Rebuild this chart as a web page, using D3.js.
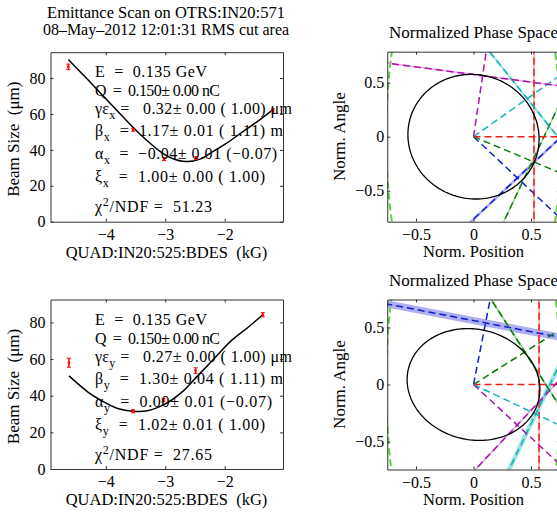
<!DOCTYPE html>
<html>
<head>
<meta charset="utf-8">
<script src="https://cdn.jsdelivr.net/npm/d3@7"></script>
<style>
  body { margin: 0; background: #fff; }
  svg text { font-family: "Liberation Serif", "Times New Roman", serif !important; white-space: pre; }
</style>
</head>
<body>
<svg id="canvas"></svg>
<script>
// ---- scan data (x plane, top) ----
const quadX = [-4.63, -3.54, -3.02, -2.48, -1.19];
const sizeX = [86.2, 51.2, 34.9, 35.4, 62.0];
const errX = [1.0, 0.3, 0.3, 0.3, 0.3];
const fitQuadX = [-4.63, -4.3, -4.0, -3.7, -3.4, -3.1, -2.9, -2.65, -2.4, -2.2, -2.0, -1.7, -1.4, -1.19];
const fitSizeX = [90.3, 79, 68.5, 58, 48, 39.5, 35.5, 33.5, 35, 39, 43, 50, 57, 62.4];

// ---- scan data (y plane, bottom) ----
const quadY = [-4.62, -3.54, -3.03, -2.49, -1.36];
const sizeY = [58.0, 31.5, 37.6, 53.7, 84.2];
const errY = [1.9, 0.3, 0.3, 1.0, 0.6];
const fitQuadY = [-4.62, -4.3, -4.1, -3.8, -3.54, -3.3, -3.0, -2.7, -2.48, -2.2, -1.88, -1.6, -1.36];
const fitSizeY = [50.8, 42, 37.8, 33, 31.5, 31.8, 35.5, 42.5, 50, 59.5, 70.3, 77.5, 84.2];

const quadTicks = [-4, -3, -2];
const sizeTicks = [0, 20, 40, 60, 80];
const normTicks = [-0.5, 0, 0.5];

// fit results text, [symbol, subscript, superscript, rest]
const statsX = [
  ["E", "", "", "  =  0.135 GeV"],
  ["Q", "", "", "  =  0.150\u00b1 0.00 nC"],
  ["\u03b3\u03b5", "x", "", " =   0.32\u00b1 0.00 ( 1.00) \u03bcm"],
  ["\u03b2", "x", "", "  =  1.17\u00b1 0.01 ( 1.11) m"],
  ["\u03b1", "x", "", "  =  \u22120.04\u00b1 0.01 (\u22120.07)"],
  ["\u03be", "x", "", "  =  1.00\u00b1 0.00 ( 1.00)"],
  ["\u03c7", "", "2", "/NDF =  51.23"]
];
const statsY = [
  ["E", "", "", "  =  0.135 GeV"],
  ["Q", "", "", "  =  0.150\u00b1 0.00 nC"],
  ["\u03b3\u03b5", "y", "", " =   0.27\u00b1 0.00 ( 1.00) \u03bcm"],
  ["\u03b2", "y", "", "  =  1.30\u00b1 0.04 ( 1.11) m"],
  ["\u03b1", "y", "", "  =  0.00\u00b1 0.01 (\u22120.07)"],
  ["\u03be", "y", "", "  =  1.02\u00b1 0.01 ( 1.00)"],
  ["\u03c7", "", "2", "/NDF =  27.65"]
];

// phase space: normal angle (deg) and distance of each measurement line
const phaseColors = ["#1020d0", "#0a7d0a", "#ee1c1c", "#10b4b4", "#b010b0"];
const bandColors = ["#a8a8f0", "#9ed49e", "#f4a8a8", "#98e2e2", "#e0a0e0"];
const angleX = [-45, -24, 0, 37, 82];
const distX = [0.54, 0.56, 0.526, 0.585, 0.57];
const angleY = [79, 32.5, 0, -25.5, -43];
const distY = [0.55, 0.53, 0.57, 0.6, 0.52];
// fitted ellipse [a, b, shear] and outer light green ellipse [a, b]
const ellX = [0.57, 0.577, -0.02];
const ellY = [0.575, 0.49, -0.05];
const outerEll = [0.76, 2.2];

const W = 557, H = 513;
const svg = d3.select("#canvas").attr("width", W).attr("height", H);
svg.append("rect").attr("width", W).attr("height", H).attr("fill", "#fff");

const axisColor = "#333";

function styleAxis(sel) {
  sel.selectAll("path.domain").attr("stroke", axisColor);
  sel.selectAll(".tick line").attr("stroke", axisColor);
  sel.selectAll(".tick text").attr("fill", "#000").style("font-size", "16px");
}

function boxAxes(g, x, y, xt, yt, fmt, pad) {
  const [x0, x1] = x.range();
  const [y0, y1] = y.range(); // y0 bottom
  g.append("g").attr("transform", `translate(0,${y0})`)
    .call(d3.axisBottom(x).tickValues(xt).tickSizeInner(-3).tickSizeOuter(0).tickPadding(7).tickFormat(fmt))
    .call(styleAxis);
  g.append("g").attr("transform", `translate(0,${y1})`)
    .call(d3.axisTop(x).tickValues(xt).tickSizeInner(-3).tickSizeOuter(0).tickFormat(""))
    .call(styleAxis);
  g.append("g").attr("transform", `translate(${x0},0)`)
    .call(d3.axisLeft(y).tickValues(yt).tickSizeInner(-3).tickSizeOuter(0).tickPadding(pad).tickFormat(fmt))
    .call(styleAxis);
  g.append("g").attr("transform", `translate(${x1},0)`)
    .call(d3.axisRight(y).tickValues(yt).tickSizeInner(-3).tickSizeOuter(0).tickFormat(""))
    .call(styleAxis);
}

// line widths of the stats block as drawn in the original (px)
const statBase = [25, 44, 62, 84, 107, 130, 160];

function statLine(t, s, yPos, xPos, len) {
  const txt = t.append("text").attr("x", xPos).attr("y", yPos).style("font-size", "16px")
    .attr("textLength", len).attr("lengthAdjust", "spacing");
  txt.append("tspan").text(s[0]);
  if (s[1]) txt.append("tspan").attr("dy", 5).style("font-size", "12px").text(s[1]);
  if (s[2]) txt.append("tspan").attr("dy", -6).style("font-size", "12px").text(s[2]);
  const back = s[1] ? -5 : (s[2] ? 6 : 0);
  txt.append("tspan").attr("dy", back).text(s[3]);
}

function scanPanel(top, yMax, quads, sizes, errs, fitQ, fitS, stats, lens) {
  const g = svg.append("g");
  const x = d3.scaleLinear().domain([-4.93, -1.02]).range([50.5, 283]);
  const y = d3.scaleLinear().domain([0, yMax]).range([top + 169.5, top]);

  const line = d3.line().x((d, i) => x(fitQ[i])).y(d => y(d)).curve(d3.curveCatmullRom);
  g.append("path").attr("d", line(fitS)).attr("fill", "none")
    .attr("stroke", "#000").attr("stroke-width", 1.5);

  const pts = g.selectAll(".pt").data(sizes).enter().append("g");
  pts.append("line")
    .attr("x1", (d, i) => x(quads[i])).attr("x2", (d, i) => x(quads[i]))
    .attr("y1", (d, i) => y(d - errs[i]) + 1).attr("y2", (d, i) => y(d + errs[i]) - 1)
    .attr("stroke", "red").attr("stroke-width", 1.5);
  [-1, 1].forEach(s => {
    pts.append("line")
      .attr("x1", (d, i) => x(quads[i]) - 2).attr("x2", (d, i) => x(quads[i]) + 2)
      .attr("y1", (d, i) => y(d + s * errs[i]) - s).attr("y2", (d, i) => y(d + s * errs[i]) - s)
      .attr("stroke", "red").attr("stroke-width", 1);
  });
  pts.append("circle").attr("cx", (d, i) => x(quads[i])).attr("cy", d => y(d))
    .attr("r", 1.3).attr("fill", "red");

  const t = g.append("g");
  stats.forEach((s, i) => statLine(t, s, top + statBase[i], 95, lens[i]));

  boxAxes(g, x, y, quadTicks, sizeTicks, d => d3.format("d")(d), 5);

  g.append("text").attr("x", 166.5).attr("y", top + 205.5)
    .attr("text-anchor", "middle").style("font-size", "16.5px").text("QUAD:IN20:525:BDES  (kG)");
  g.append("text").attr("transform", `translate(19,${top + 87}) rotate(-90)`)
    .attr("text-anchor", "middle").style("font-size", "17px").text("Beam Size  (\u03bcm)");
}

function phasePanel(top, yLim, angles, dists, errs, sizes, ell, id) {
  const g = svg.append("g");
  const x = d3.scaleLinear().domain([-0.75, 0.75]).range([387.25, 559.75]);
  const y = d3.scaleLinear().domain([-yLim, yLim]).range([top + 170, top]);

  g.append("clipPath").attr("id", id).append("rect")
    .attr("x", 387.25).attr("y", top).attr("width", 172.5).attr("height", 170);
  const pg = g.append("g").attr("clip-path", `url(#${id})`);
  const seg = (a, b) => `M${x(a[0])},${y(a[1])}L${x(b[0])},${y(b[1])}`;
  const L = 3;

  // outer light green ellipse
  const ts = d3.range(0, 361, 2).map(v => v * Math.PI / 180);
  const outer = d3.line().x(t => x(outerEll[0] * Math.cos(t))).y(t => y(outerEll[1] * Math.sin(t)));
  pg.append("path").attr("d", outer(ts)).attr("fill", "none")
    .attr("stroke", "#5fd040").attr("stroke-width", 2).attr("stroke-dasharray", "7,4");

  angles.forEach((a, i) => {
    const th = a * Math.PI / 180, r = dists[i];
    const c = Math.cos(th), s = Math.sin(th);
    const P = [r * c, r * s];
    const p1 = [P[0] + L * s, P[1] - L * c], p2 = [P[0] - L * s, P[1] + L * c];
    const band = Math.max(1.5, r * errs[i] / sizes[i] * 115 * 3.5);
    pg.append("path").attr("d", seg(p1, p2)).attr("stroke", bandColors[i])
      .attr("stroke-width", band).attr("opacity", 0.9);
  });
  angles.forEach((a, i) => {
    const th = a * Math.PI / 180, r = dists[i];
    const c = Math.cos(th), s = Math.sin(th);
    const P = [r * c, r * s];
    const p1 = [P[0] + L * s, P[1] - L * c], p2 = [P[0] - L * s, P[1] + L * c];
    pg.append("path").attr("d", seg([0, 0], [L * c, L * s])).attr("stroke", phaseColors[i])
      .attr("stroke-width", 1.5).attr("stroke-dasharray", "7,4");
    pg.append("path").attr("d", seg(p1, p2)).attr("stroke", phaseColors[i])
      .attr("stroke-width", 1.5).attr("stroke-dasharray", "7,4");
  });

  const el = d3.line()
    .x(t => x(ell[0] * Math.cos(t) + ell[2] * Math.sin(t)))
    .y(t => y(ell[1] * Math.sin(t)));
  pg.append("path").attr("d", el(ts)).attr("fill", "none")
    .attr("stroke", "#000").attr("stroke-width", 1.3);

  const fmt = d => d === 0 ? "0" : d3.format(".1f")(d);
  boxAxes(g, x, y, normTicks, normTicks, fmt, 3);

  g.append("text").attr("x", 473.5).attr("y", top + 205)
    .attr("text-anchor", "middle").style("font-size", "16.5px").text("Norm. Position");
  g.append("text").attr("transform", `translate(345,${top + 85}) rotate(-90)`)
    .attr("text-anchor", "middle").style("font-size", "17px").text("Norm. Angle");
  g.append("text").attr("x", 473.5).attr("y", top - 13.5)
    .attr("text-anchor", "middle").style("font-size", "17px").text("Normalized Phase Space");
}

scanPanel(52.2, 94.4, quadX, sizeX, errX, fitQuadX, fitSizeX, statsX, [112, 125, 197, 188, 182, 170, 117]);
scanPanel(299.5, 92.5, quadY, sizeY, errY, fitQuadY, fitSizeY, statsY, [112, 125, 197, 188, 177, 170, 117]);
phasePanel(51.7, 0.787, angleX, distX, errX, sizeX, ellX, "clipTop");
phasePanel(299.5, 0.745, angleY, distY, errY, sizeY, ellY, "clipBot");

svg.append("text").attr("x", 166).attr("y", 18.3).attr("text-anchor", "middle")
  .style("font-size", "16.5px").text("Emittance Scan on OTRS:IN20:571");
svg.append("text").attr("x", 166).attr("y", 35).attr("text-anchor", "middle")
  .style("font-size", "16px").text("08\u2013May\u20132012 12:01:31 RMS cut area");
</script>
</body>
</html>
